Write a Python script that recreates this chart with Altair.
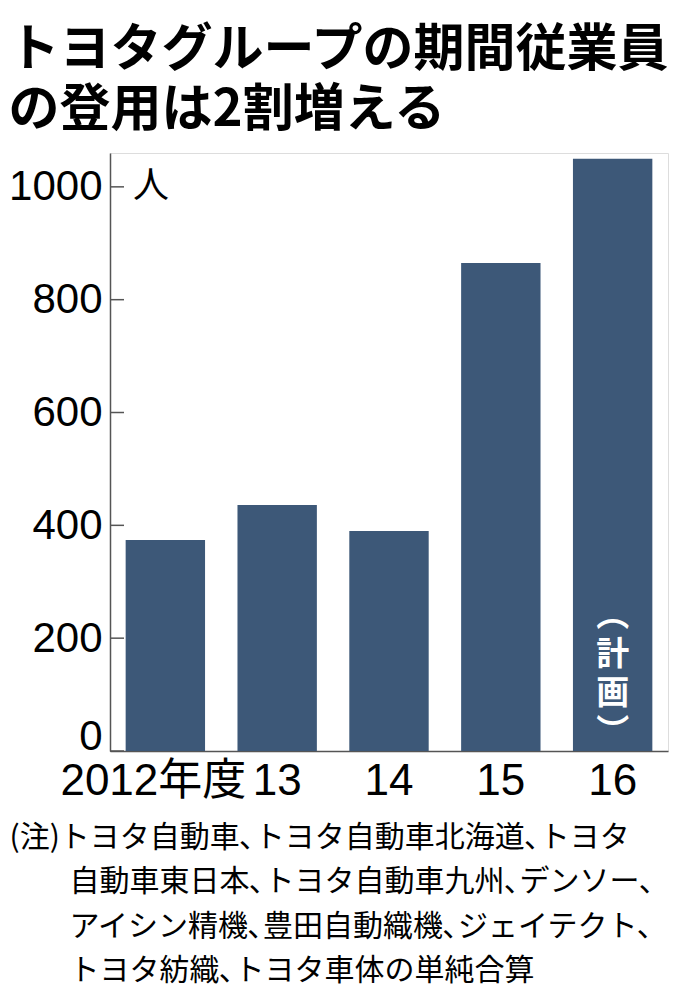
import altair as alt
import pandas as pd

# ---- data ----
years = ["2012年度", "13", "14", "15", "16"]
employees = [374, 436, 390, 865, 1050]
y_ticks = [0, 200, 400, 600, 800, 1000]
unit_label = ["人"]
unit_at = [1000]
plan_label = ["︵\n計\n画\n︶"]
plan_year = ["16"]
plan_at = [240]
title_lines = ["トヨタグループの期間従業員", "の登用は2割増える"]
note_lines = [
    "(注)トヨタ自動車､トヨタ自動車北海道､トヨタ",
    "\u200b\u3000\u3000自動車東日本､トヨタ自動車九州､デンソー､",
    "\u200b\u3000\u3000アイシン精機､豊田自動織機､ジェイテクト､",
    "\u200b\u3000\u3000トヨタ紡織､トヨタ車体の単純合算",
]

JP = "Noto Sans CJK JP"
NUM = "Liberation Sans, Noto Sans CJK JP"
BAR = "#3d5878"
AX = "#555555"

df = pd.DataFrame({"year": years, "value": employees})
ydom = alt.Scale(domain=[0, 1060], nice=False, zero=True)

x_enc = alt.X(
    "year:N",
    sort=years,
    scale=alt.Scale(paddingInner=0.29, paddingOuter=0.14),
    axis=alt.Axis(
        title=note_lines,
        titleFont=JP,
        titleFontSize=30,
        titleFontWeight="normal",
        titleColor="black",
        titleAlign="left",
        titleAnchor="start",
        titleBaseline="top",
        titleX=-101,
        titleY=71,
        titleLineHeight=44.5,
        titleLimit=0,
        labelAngle=0,
        labelFont=NUM,
        labelFontSize=44,
        labelColor="black",
        labelPadding=8,
        labelLimit=0,
        labelOffset={"condition": {"test": "datum.value == '2012年度'", "value": -12}, "value": 0},
        ticks=False,
        domainColor=AX,
        domainWidth=1.5,
    ),
)

bars = alt.Chart(df).mark_bar(color=BAR).encode(
    x=x_enc,
    y=alt.Y(
        "value:Q",
        scale=ydom,
        axis=alt.Axis(
            values=y_ticks,
            format="d",
            title=None,
            ticks=False,
            grid=False,
            labelFont=NUM,
            labelFontSize=42,
            labelColor="black",
            labelPadding=8,
            labelOffset={"condition": {"test": "datum.value == 0", "value": -15}, "value": 0},
            domainColor=AX,
            domainWidth=1.5,
        ),
    ),
)

ticks = alt.Chart(pd.DataFrame({"t": y_ticks})).mark_rule(color=AX, strokeWidth=1.5).encode(
    y=alt.Y("t:Q", scale=ydom),
    x=alt.value(0),
    x2=alt.value(14),
)

unit = alt.Chart(pd.DataFrame({"u": unit_label, "v": unit_at})).mark_text(
    align="left", baseline="middle", font=JP, fontSize=36, color="black"
).encode(text="u:N", y=alt.Y("v:Q", scale=ydom), x=alt.value(23))

plan = alt.Chart(pd.DataFrame({"year": plan_year, "v": plan_at, "label": plan_label})).mark_text(
    align="center", baseline="middle", font=JP, fontSize=33, fontWeight="bold",
    color="white", lineBreak="\n", lineHeight=39
).encode(
    x=alt.X("year:N", sort=years),
    y=alt.Y("v:Q", scale=ydom),
    text="label:N",
)

chart = (
    alt.layer(bars, ticks, unit, plan)
    .properties(
        width=558,
        height=598,
        padding={"left": 0, "top": 17, "right": 0, "bottom": 4},
        title=alt.TitleParams(
            text=title_lines,
            anchor="start",
            frame="bounds",
            font=JP,
            fontSize=51,
            fontWeight="bold",
            color="black",
            lineHeight=60,
            offset=16,
        ),
    )
    .configure_view(stroke=None)
    .configure(background="white")
)

chart.save("out.html", embed_options={"renderer": "svg", "actions": False})
